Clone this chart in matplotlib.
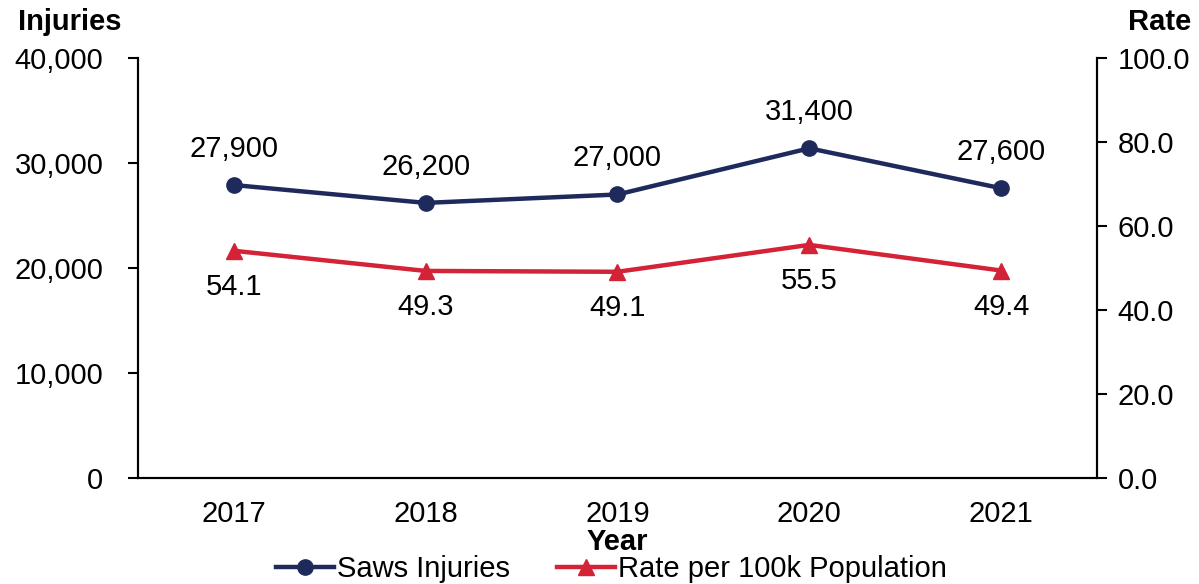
import matplotlib
matplotlib.use("Agg")
import matplotlib.pyplot as plt
from matplotlib.ticker import FuncFormatter

plt.rcParams["font.family"] = ["Liberation Sans", "DejaVu Sans"]

years = ["2017", "2018", "2019", "2020", "2021"]
injuries = [27900, 26200, 27000, 31400, 27600]
rates = [54.1, 49.3, 49.1, 55.5, 49.4]

NAVY = "#1f2a5c"
RED = "#d42236"
FS = 21

fig = plt.figure(figsize=(11.99, 5.84), dpi=100, facecolor="white")
ax = fig.add_axes([0.1151, 0.1815, 0.7998, 0.7192])
ax2 = ax.twinx()

x = list(range(len(years)))
l1, = ax.plot(x, injuries, color=NAVY, lw=3.2, marker="o", ms=11,
              label="Saws Injuries", zorder=3)
l2, = ax2.plot(x, rates, color=RED, lw=3.2, marker="^", ms=12,
               label="Rate per 100k Population", zorder=3)

for xi, v in zip(x, injuries):
    ax.annotate(f"{v:,}", (xi, v), xytext=(0, 16), textcoords="offset points",
                ha="center", va="bottom", fontsize=FS)
for xi, v in zip(x, rates):
    ax2.annotate(f"{v:.1f}", (xi, v), xytext=(0, -16), textcoords="offset points",
                 ha="center", va="top", fontsize=FS)

ax.set_xlim(-0.5, 4.5)
ax.set_ylim(0, 40000)
ax2.set_ylim(0, 100)
ax.set_yticks([0, 10000, 20000, 30000, 40000])
ax2.set_yticks([0, 20, 40, 60, 80, 100])
ax.yaxis.set_major_formatter(FuncFormatter(lambda v, p: f"{int(v):,}"))
ax2.yaxis.set_major_formatter(FuncFormatter(lambda v, p: f"{v:.1f}"))
ax.set_xticks(x)
ax.set_xticklabels(years)

for a in (ax, ax2):
    a.spines["top"].set_visible(False)
    for s in a.spines.values():
        s.set_linewidth(1.5)
    a.tick_params(labelsize=FS, width=1.5, length=7)
ax.tick_params(axis="x", length=0, pad=16)
ax.tick_params(axis="y", pad=18)
ax2.tick_params(axis="y", pad=8)

ax.set_xlabel("Year", fontsize=FS, fontweight="bold", labelpad=0)
fig.text(0.058, 0.962, "Injuries", fontsize=FS, fontweight="bold", ha="center", va="center")
fig.text(0.967, 0.962, "Rate", fontsize=FS, fontweight="bold", ha="center", va="center")

fig.legend(handles=[l1, l2], loc="lower center", bbox_to_anchor=(0.51, -0.043),
           ncol=2, frameon=False, fontsize=FS, handlelength=2.0,
           handletextpad=0.1, columnspacing=1.6)

fig.savefig("out.png", dpi=100, facecolor="white")
